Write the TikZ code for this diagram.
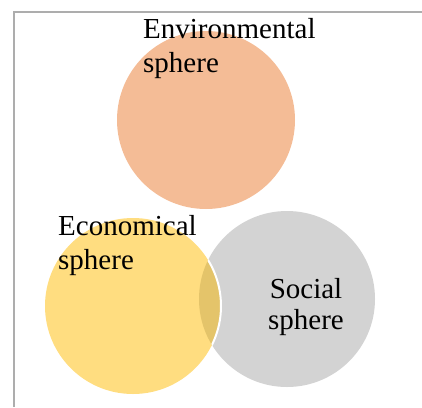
\documentclass[tikz,border=0pt]{standalone}
\usepackage{fontspec}
\setmainfont{Liberation Serif}
\usepackage{tikz}
\usetikzlibrary{positioning}

\definecolor{envcol}{RGB}{244,188,150}
\definecolor{ecocol}{RGB}{255,221,128}
\definecolor{soccol}{RGB}{211,211,211}
\definecolor{lenscol}{RGB}{228,196,106}
\definecolor{framecol}{RGB}{173,173,173}

\begin{document}
\begin{tikzpicture}[
  x=1pt, y=-1pt,
  blob/.style={circle,inner sep=0pt,draw=none},
  lbl/.style={inner sep=0pt,align=left,font=\fontsize{29}{34}\selectfont}
]
\useasboundingbox (0,0) rectangle (422,407);

% frame
\draw[framecol,line width=2pt] (14,407) -- (14,12) -- (422,12);

% spheres
\node[blob,fill=envcol,minimum size=178pt] (env) at (206,120) {};
\node[blob,fill=soccol,minimum size=176pt] (soc) at (287,299) {};
\node[blob,fill=ecocol,minimum size=176pt] (eco) at (133,306) {};

% overlap
\begin{scope}
  \clip (soc.center) circle (88);
  \fill[lenscol] (eco.center) circle (88);
  \draw[white,line width=2pt] (eco.center) circle (88);
\end{scope}

% labels
\node[lbl,anchor=north west] (envtxt) at (143,18) {Environmental\\sphere};
\node[lbl,anchor=north west] (ecotxt) at (58,215) {Economical\\sphere};
\node[lbl,anchor=north,align=center,font=\fontsize{29}{31}\selectfont] (soctxt) at (306,278) {Social\\sphere};

\end{tikzpicture}
\end{document}
